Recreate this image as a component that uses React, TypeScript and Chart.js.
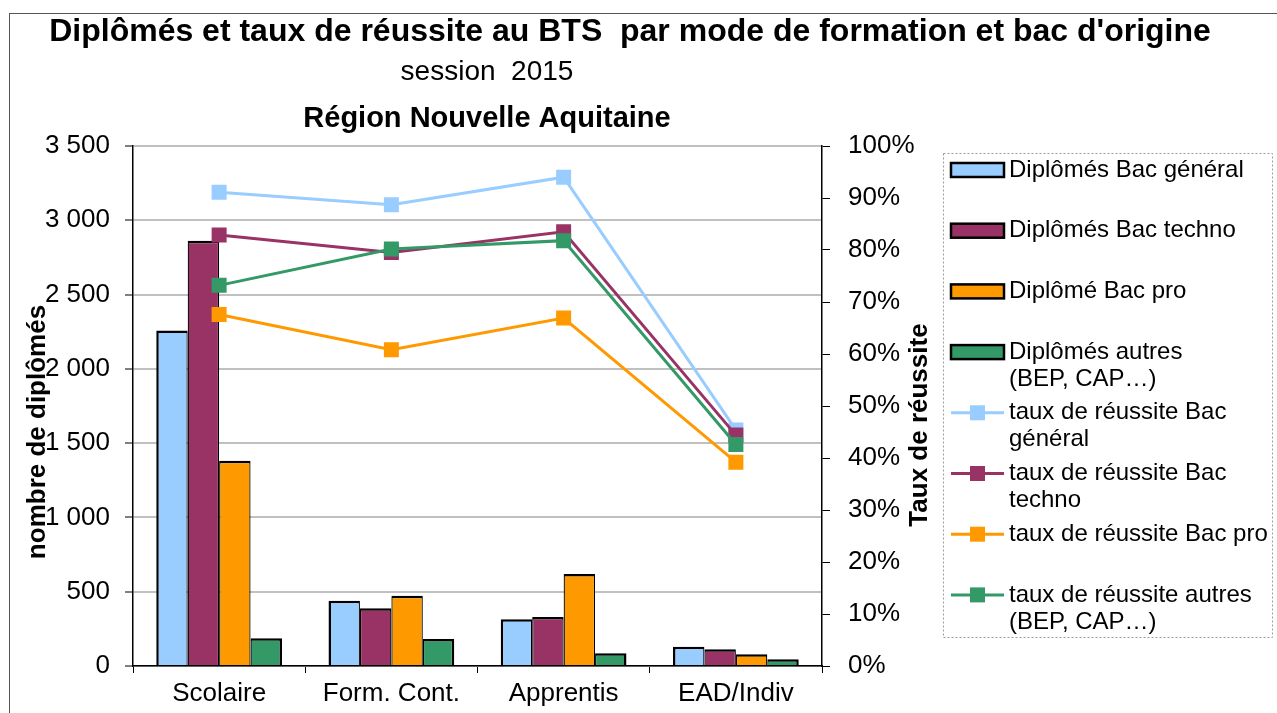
import React, { useEffect, useRef } from 'react';
import { Chart, registerables } from 'chart.js';

Chart.register(...registerables);

// ---------- data ----------
const categories = ['Scolaire', 'Form. Cont.', 'Apprentis', 'EAD/Indiv'];

const diplomesBacGeneral = [2259, 440, 315, 130];
const diplomesBacTechno = [2863, 388, 330, 112];
const diplomesBacPro = [1382, 473, 620, 79];
const diplomesAutres = [186, 182, 85, 45];

const tauxBacGeneral = [91.1, 88.7, 94.0, 45.4];
const tauxBacTechno = [82.9, 79.5, 83.5, 44.4];
const tauxBacPro = [67.6, 60.8, 66.9, 39.2];
const tauxAutres = [73.2, 80.2, 81.8, 42.6];

const barLabels = ['Diplômés Bac général', 'Diplômés Bac techno', 'Diplômé Bac pro', 'Diplômés autres (BEP,\u00A0CAP…)'];
const lineLabels = ['taux de réussite Bac général', 'taux de réussite Bac techno', 'taux de réussite Bac pro', 'taux de réussite autres (BEP,\u00A0CAP…)'];

const countAxis = { min: 0, max: 3500, step: 500 };
const percentAxis = { min: 0, max: 100, step: 10 };

const titleText = "Diplômés et taux de réussite au BTS  par mode de formation et bac d'origine";
const subtitleText = 'session  2015';
const regionText = 'Région Nouvelle Aquitaine';
const leftAxisTitle = 'nombre de diplômés';
const rightAxisTitle = 'Taux de réussite';

// ---------- style ----------
const COLORS = ['#99CCFF', '#993366', '#FF9900', '#339966'];
const FONT = '"Liberation Sans", Arial, Helvetica, sans-serif';

function formatCount(v: number): string {
  if (v >= 1000) {
    const t = Math.floor(v / 1000);
    const r = v % 1000;
    return `${t} ${String(r).padStart(3, '0')}`;
  }
  return String(v);
}

function wrapText(ctx: CanvasRenderingContext2D, text: string, maxW: number): string[] {
  const words = text.split(' ');
  const lines: string[] = [];
  let cur = '';
  for (const w of words) {
    const test = cur ? cur + ' ' + w : w;
    if (cur && ctx.measureText(test).width > maxW) {
      lines.push(cur);
      cur = w;
    } else {
      cur = test;
    }
  }
  if (cur) lines.push(cur);
  return lines;
}

const decorPlugin = {
  id: 'decor',
  afterDraw(chart: any) {
    const ctx: CanvasRenderingContext2D = chart.ctx;
    ctx.save();

    // outer frame
    ctx.strokeStyle = '#555';
    ctx.lineWidth = 1;
    ctx.setLineDash([]);
    ctx.strokeRect(9.5, 13.5, 1400, 1000);

    // titles
    ctx.fillStyle = '#000';
    ctx.textAlign = 'center';
    ctx.textBaseline = 'alphabetic';
    ctx.font = `bold 32px ${FONT}`;
    ctx.fillText(titleText, 630, 41);
    ctx.font = `28px ${FONT}`;
    ctx.fillText(subtitleText, 487, 80);
    ctx.font = `bold 29px ${FONT}`;
    ctx.fillText(regionText, 487, 127);

    // axis titles
    ctx.font = `bold 26px ${FONT}`;
    ctx.save();
    ctx.translate(45, 432);
    ctx.rotate(-Math.PI / 2);
    ctx.fillText(leftAxisTitle, 0, 0);
    ctx.restore();
    ctx.save();
    ctx.translate(927, 425);
    ctx.rotate(-Math.PI / 2);
    ctx.fillText(rightAxisTitle, 0, 0);
    ctx.restore();

    // legend box
    const bx = 943, by = 153, bw = 329, bh = 484;
    ctx.strokeStyle = '#9a9a9a';
    ctx.lineWidth = 1;
    ctx.setLineDash([2, 2]);
    ctx.strokeRect(bx + 0.5, by + 0.5, bw, bh);
    ctx.setLineDash([]);

    const items = [
      ...barLabels.map((l, i) => ({ label: l, color: COLORS[i], kind: 'bar' })),
      ...lineLabels.map((l, i) => ({ label: l, color: COLORS[i], kind: 'line' })),
    ];
    ctx.font = `24px ${FONT}`;
    ctx.textAlign = 'left';
    ctx.textBaseline = 'middle';
    const slot = 60.7;
    const symX0 = 951, symX1 = 1004, textX = 1009;
    items.forEach((it, i) => {
      const cy = 170 + i * slot;
      if (it.kind === 'bar') {
        ctx.fillStyle = it.color;
        ctx.fillRect(symX0, cy - 7, symX1 - symX0, 14);
        ctx.strokeStyle = '#000';
        ctx.lineWidth = 2.5;
        ctx.strokeRect(symX0, cy - 7, symX1 - symX0, 14);
      } else {
        ctx.strokeStyle = it.color;
        ctx.lineWidth = 3;
        ctx.beginPath();
        ctx.moveTo(symX0, cy);
        ctx.lineTo(symX1, cy);
        ctx.stroke();
        ctx.fillStyle = it.color;
        ctx.fillRect((symX0 + symX1) / 2 - 7.5, cy - 7.5, 15, 15);
      }
      ctx.fillStyle = '#000';
      const lines = wrapText(ctx, it.label, 264);
      lines.forEach((ln, k) => ctx.fillText(ln, textX, cy + k * 27));
    });

    ctx.restore();
  },
};

export default function App() {
  const ref = useRef<HTMLCanvasElement | null>(null);

  useEffect(() => {
    if (!ref.current) return;
    const tickFont = { family: FONT, size: 26 };
    const barDs = [diplomesBacGeneral, diplomesBacTechno, diplomesBacPro, diplomesAutres].map((d, i) => ({
      type: 'bar' as const,
      label: barLabels[i],
      data: d,
      yAxisID: 'y',
      backgroundColor: COLORS[i],
      borderColor: '#000',
      borderWidth: { top: 2.5, left: i === 0 ? 2.5 : 1.25, right: i === 3 ? 2.5 : 1.25, bottom: 0 },
      borderSkipped: false,
      order: 10,
    }));
    const lineDs = [tauxBacGeneral, tauxBacTechno, tauxBacPro, tauxAutres].map((d, i) => ({
      type: 'line' as const,
      label: lineLabels[i],
      data: d,
      yAxisID: 'y1',
      borderColor: COLORS[i],
      backgroundColor: COLORS[i],
      borderWidth: 3,
      tension: 0,
      pointStyle: 'rect',
      pointRadius: 10.6,
      pointBorderWidth: 0,
      pointBackgroundColor: COLORS[i],
      fill: false,
      order: 3 - i,
    }));

    const chart = new Chart(ref.current, {
      type: 'bar',
      data: { labels: categories, datasets: [...barDs, ...lineDs] as any },
      options: {
        responsive: false,
        animation: false,
        events: [],
        layout: { padding: { top: 146, left: 0, right: 0, bottom: 0 } },
        plugins: {
          legend: { display: false },
          title: { display: false },
          tooltip: { enabled: false },
        },
        datasets: { bar: { categoryPercentage: 0.73, barPercentage: 1 } },
        scales: {
          x: {
            type: 'category',
            offset: true,
            grid: { offset: true, drawOnChartArea: false, drawTicks: true, tickLength: 7, tickColor: '#000', tickWidth: 1 },
            border: { color: '#000', width: 1.5 },
            ticks: { color: '#000', font: tickFont, padding: 5, maxRotation: 0, autoSkip: false },
            afterFit: (s: any) => { s.height = 47; },
          },
          y: {
            type: 'linear',
            position: 'left',
            min: countAxis.min,
            max: countAxis.max,
            ticks: { stepSize: countAxis.step, color: '#000', font: tickFont, padding: 15, callback: (v: any) => formatCount(Number(v)) },
            grid: { color: '#C0C0C0', lineWidth: 2, tickLength: 8, tickColor: '#000', tickWidth: 1 },
            border: { color: '#000', width: 1.5 },
            afterFit: (s: any) => { s.width = 133; },
          },
          y1: {
            type: 'linear',
            position: 'right',
            min: percentAxis.min,
            max: percentAxis.max,
            ticks: { stepSize: percentAxis.step, color: '#000', font: tickFont, padding: 18, callback: (v: any) => `${v}%` },
            grid: { drawOnChartArea: false, tickLength: 8, tickColor: '#000', tickWidth: 1 },
            border: { color: '#000', width: 1.5 },
            afterFit: (s: any) => { s.width = 455; },
          },
        },
      } as any,
      plugins: [decorPlugin],
    });
    return () => chart.destroy();
  }, []);

  return (
    <div style={{ position: 'fixed', left: 0, top: 0, width: 1277, height: 713, background: '#fff' }}>
      <canvas ref={ref} width={1277} height={713} style={{ display: 'block' }} />
    </div>
  );
}
